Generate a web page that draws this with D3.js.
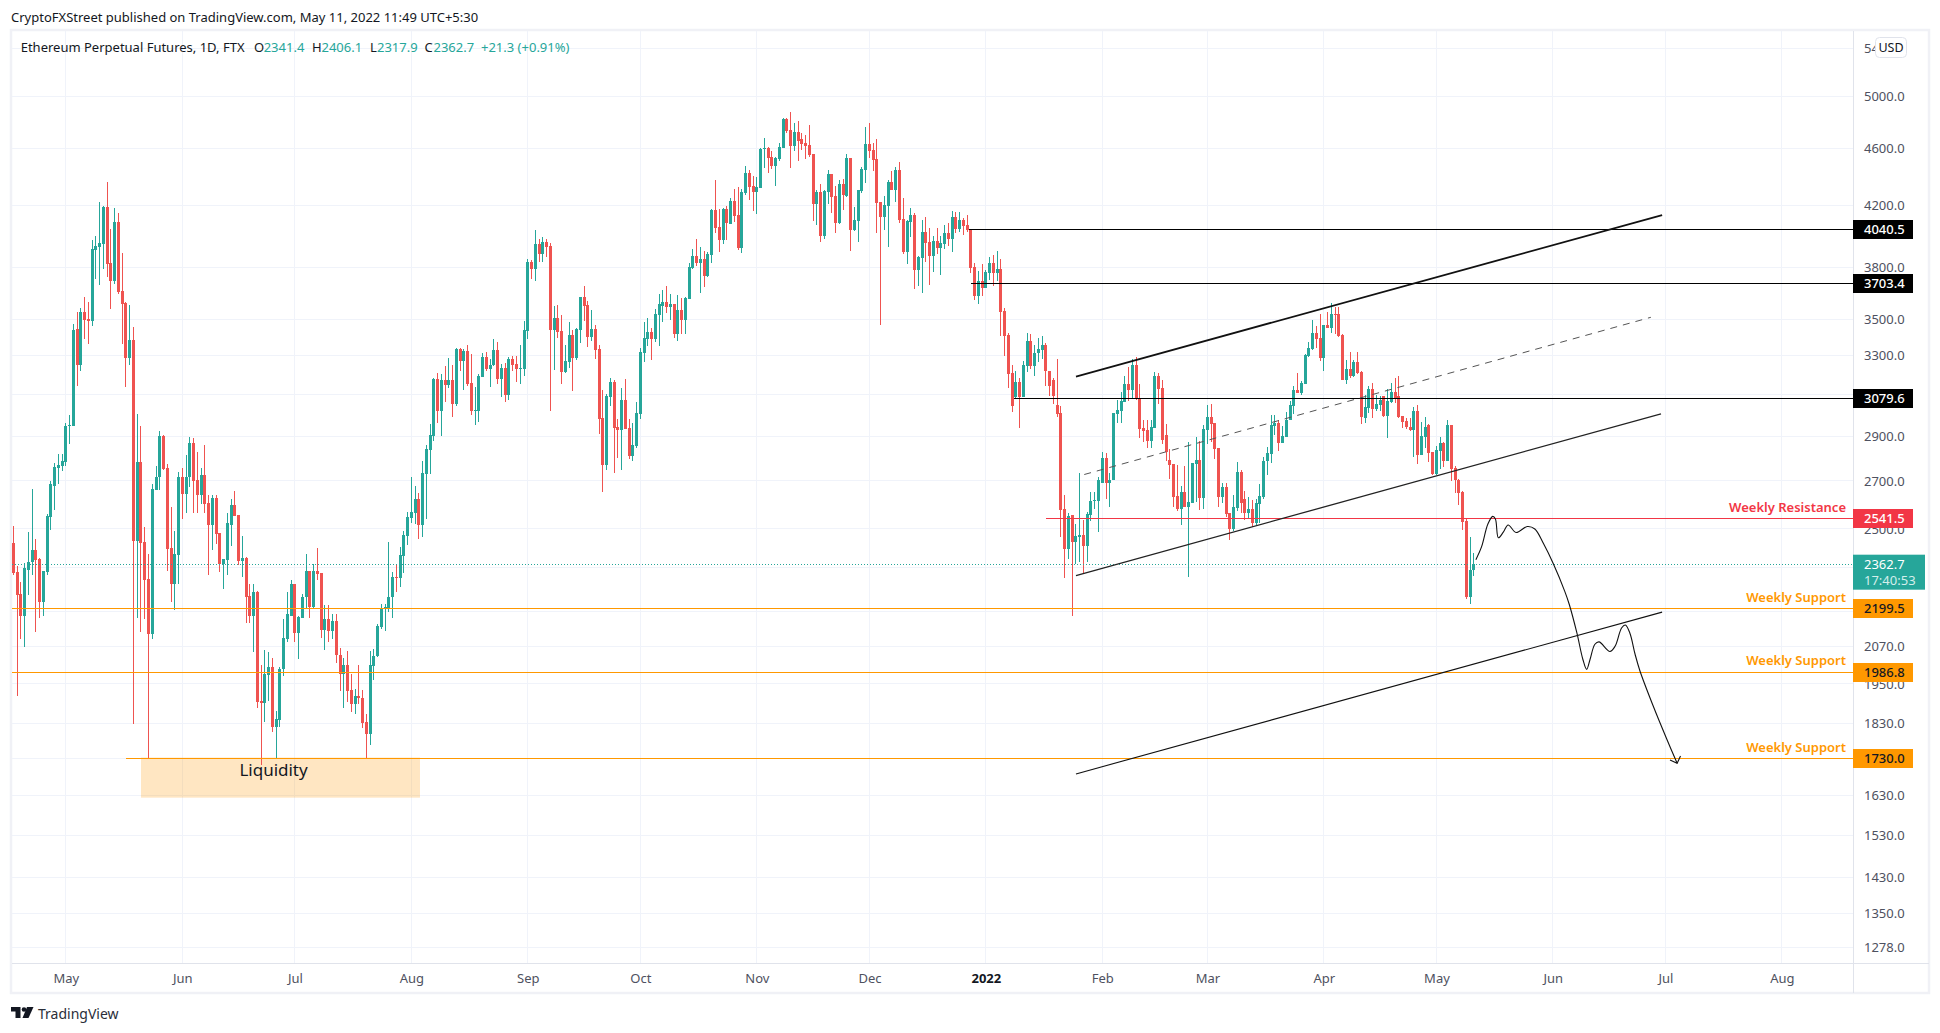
<!DOCTYPE html>
<html>
<head>
<meta charset="utf-8">
<title>Ethereum Perpetual Futures, 1D, FTX</title>
<script src="https://d3js.org/d3.v7.min.js"></script>
<style>
html, body { margin: 0; background: #fff; }
svg { display: block; font-family: "Noto Sans", sans-serif; }
.axis text { font-family: "Noto Sans", sans-serif; font-size: 13px; fill: #4e5160; }
.axis .domain { display: none; }
.axis line { display: none; }
</style>
</head>
<body>
<div id="my_chart"></div>
<script>

// daily candles, first one is 17 Apr 2021
const firstDay = Date.UTC(2021, 3, 17);

const opens = [
  2443,2335,2254,2176,2342,2372,2417,2383,2225,2335,2547,2680,2758,2765,2785,2947,2950,3445,3250,3540,
  3500,3490,3912,3930,3950,4188,3830,3722,4090,3660,3590,3290,3385,2452,2785,2447,2308,2112,2660,2715,
  2900,2758,2425,2290,2398,2719,2642,2715,2870,2702,2638,2724,2605,2517,2626,2484,2364,2379,2517,2597,
  2555,2375,2386,2247,2173,2258,1898,1892,1978,2003,1820,1840,1997,2095,2173,2290,2115,2166,2240,2338,
  2205,2338,2331,2125,2163,2122,2156,2042,1981,2010,1932,1888,1914,1905,1834,1799,2007,2039,2136,2198,
  2201,2240,2316,2312,2394,2472,2543,2563,2622,2515,2732,2838,2902,3177,3019,3172,3147,3172,3053,3337,
  3274,3327,3157,3019,3019,3192,3295,3233,3249,3332,3177,3238,3098,3285,3259,3233,3233,3434,3838,3790,
  3950,3888,3962,3935,3440,3505,3434,3213,3269,3412,3290,3440,3625,3578,3401,3445,3337,2986,2771,3088,
  3162,2944,2930,3073,2939,2811,2856,3005,3316,3391,3428,3391,3522,3573,3595,3567,3585,3418,3550,3495,
  3613,3796,3875,3832,3856,3748,3881,4169,4056,3975,4175,4077,4229,4135,3925,4283,4422,4332,4290,4318,
  4594,4607,4535,4472,4521,4607,4820,4736,4621,4721,4668,4644,4629,4558,4209,4290,4000,4290,4415,4263,
  4083,4346,4263,4528,4038,4097,4297,4443,4637,4587,4521,4222,4122,4195,4360,4304,4443,4110,3899,4090,
  4135,3784,3862,4025,3962,3875,3968,3925,3950,4020,3981,4122,4044,4103,4070,4044,3802,3631,3718,3677,
  3766,3832,3766,3790,3545,3412,3208,3088,3162,3088,3244,3380,3244,3316,3332,3358,3223,3172,3048,3010,
  2580,2421,2555,2447,2468,2476,2433,2555,2613,2613,2693,2802,2689,2706,3005,3019,3063,3152,3122,3254,
  3083,2939,2930,2879,2939,3197,3132,2907,2793,2775,2634,2580,2651,2588,2605,2775,2793,2626,2930,2990,
  2962,2847,2630,2676,2563,2499,2584,2741,2622,2563,2580,2522,2600,2630,2788,2820,2948,2962,2870,2897,
  2976,3043,3122,3107,3152,3300,3337,3423,3396,3290,3467,3450,3528,3528,3412,3172,3233,3197,3269,3213,
  2986,3034,3127,3029,3048,3093,2995,3063,3112,3093,2995,2972,2944,2930,3019,2815,2897,2953,2829,2732,
  2834,2870,2788,2953,2758,2706,2651,2531,2240,2341.4
];
const highs = [
  2510,2357,2298,2368,2488,2664,2460,2386,2338,2559,2698,2780,2817,2820,2965,3000,3470,3540,3562,3625,
  3600,3975,4000,4222,4195,4360,4043,4182,4150,3893,3595,3578,3455,3005,2950,2507,2401,2685,2767,2925,
  2905,2775,2588,2491,2740,2758,2815,2897,2893,2829,2758,2860,2638,2638,2638,2484,2383,2563,2622,2655,
  2555,2472,2390,2290,2290,2262,2010,2059,2052,2033,1866,2003,2163,2258,2305,2290,2173,2254,2401,2338,
  2364,2425,2331,2212,2212,2183,2183,2065,2033,2056,1982,1935,2010,1932,1857,2056,2063,2146,2215,2215,
  2448,2335,2360,2429,2491,2568,2715,2680,2647,2789,2860,2960,3187,3208,3203,3248,3290,3254,3342,3342,
  3337,3358,3311,3137,3203,3316,3321,3285,3391,3375,3259,3264,3295,3300,3300,3358,3490,3856,3850,4038,
  3981,3994,3981,3955,3573,3578,3521,3358,3484,3440,3450,3625,3689,3601,3550,3467,3358,3122,3103,3187,
  3172,2981,3132,3177,2981,2962,3063,3342,3484,3505,3450,3556,3642,3665,3689,3642,3585,3636,3619,3625,
  3832,3918,3981,3930,3905,3899,4175,4375,4175,4182,4195,4250,4311,4325,4311,4472,4443,4401,4394,4607,
  4682,4614,4580,4542,4645,4835,4828,4875,4790,4812,4713,4698,4775,4558,4304,4349,4304,4443,4415,4332,
  4375,4382,4558,4528,4190,4304,4465,4760,4790,4645,4668,4222,4263,4375,4436,4465,4500,4250,4103,4182,
  4150,3875,4103,4122,4050,4000,4050,4000,4070,4083,4162,4155,4155,4116,4135,4044,3832,3778,3826,3784,
  3868,3881,3905,3856,3562,3423,3254,3223,3187,3274,3423,3418,3358,3396,3407,3370,3223,3182,3285,3043,
  2638,2563,2555,2519,2736,2535,2568,2651,2651,2715,2829,2825,2736,3010,3073,3112,3197,3243,3285,3295,
  3152,2976,2976,2976,3213,3208,3172,2958,2843,2775,2771,2680,2767,2875,2780,2897,2879,2953,3048,3053,
  2962,2847,2689,2689,2563,2638,2785,2749,2655,2630,2618,2622,2685,2807,2852,3000,3000,2976,2948,3015,
  3068,3142,3208,3167,3311,3375,3495,3462,3528,3467,3540,3590,3567,3567,3418,3280,3321,3280,3321,3223,
  3098,3142,3157,3098,3093,3093,3127,3157,3182,3197,2995,2986,2986,3039,3048,2967,2990,2958,2829,2856,
  2897,2875,2976,2953,2767,2710,2655,2543,2468,2406.1
];
const lows = [
  2323,1914,2095,2069,2250,2323,2119,2169,2176,2323,2495,2576,2685,2745,2765,2865,2950,3142,3220,3391,
  3365,3460,3735,3695,3790,3742,3556,3700,3642,3365,3137,3252,1830,2167,2119,2163,1730,2095,2660,2660,
  2750,2338,2225,2194,2290,2539,2563,2672,2563,2563,2600,2563,2323,2417,2440,2335,2272,2323,2433,2551,
  2360,2316,2149,2149,2052,1877,1712,1836,1898,1804,1729,1820,1975,2085,2173,2085,2030,2166,2201,2169,
  2201,2305,2098,2059,2085,2095,2016,1929,1877,1895,1863,1857,1888,1816,1732,1768,1962,2036,2130,2122,
  2187,2166,2258,2279,2331,2437,2523,2519,2460,2468,2539,2732,2878,2962,2902,3063,3132,2990,3043,3218,
  3122,3142,3000,2953,2967,3192,3218,3137,3244,3152,3088,3063,3073,3223,3162,3152,3197,3391,3730,3718,
  3838,3838,3868,3019,3228,3396,3152,3208,3238,3117,3280,3370,3490,3348,3380,3285,2911,2651,2749,3043,
  2736,2802,2749,2934,2797,2788,2847,2981,3269,3353,3280,3375,3353,3484,3533,3495,3396,3380,3418,3418,
  3613,3790,3808,3648,3683,3742,3832,4020,3899,3950,3975,4077,4090,3912,3893,4270,4236,4162,4142,4318,
  4457,4422,4450,4332,4507,4607,4713,4457,4580,4507,4587,4521,4535,4097,4070,3962,3981,4209,4149,4018,
  4077,4169,4256,3905,4030,3962,4283,4352,4528,4436,4018,3467,4038,3930,4304,4222,4083,3887,3825,3994,
  3671,3689,3648,3838,3695,3772,3887,3754,3918,3937,3899,4018,4025,4006,4025,3766,3607,3585,3631,3677,
  3724,3689,3718,3407,3300,3132,3015,3083,2939,3088,3213,3233,3197,3269,3285,3142,3093,3053,2990,2468,
  2312,2383,2173,2364,2372,2331,2372,2531,2580,2488,2689,2622,2588,2706,2962,2962,3063,3068,3083,3073,
  2893,2875,2847,2847,2939,3053,2865,2788,2710,2588,2572,2515,2588,2316,2605,2609,2576,2580,2865,2875,
  2797,2588,2605,2547,2456,2491,2572,2563,2535,2539,2507,2515,2522,2622,2724,2780,2907,2834,2870,2897,
  2976,3005,3107,3098,3152,3295,3332,3342,3274,3223,3450,3423,3418,3401,3172,3152,3187,3192,3203,2958,
  2962,3010,2986,3019,3019,2990,2893,3060,3058,2986,2939,2934,2925,2806,2775,2815,2847,2784,2728,2728,
  2754,2762,2788,2698,2647,2597,2495,2236,2215,2317.9
];
const closes = [
  2331,2250,2176,2349,2372,2417,2379,2225,2338,2551,2685,2762,2770,2788,2950,2955,3440,3250,3540,3495,
  3490,3918,3935,3955,4188,3825,3718,4090,3654,3585,3290,3385,2452,2785,2443,2305,2112,2664,2719,2900,
  2754,2421,2290,2401,2719,2642,2719,2870,2698,2638,2724,2600,2517,2626,2480,2364,2383,2522,2597,2551,
  2375,2386,2243,2173,2258,1895,1892,1981,2003,1820,1842,1997,2098,2180,2290,2115,2170,2243,2338,2205,
  2338,2327,2125,2163,2122,2156,2042,1981,2010,1929,1888,1914,1905,1831,1799,2010,2039,2139,2201,2205,
  2243,2316,2312,2398,2476,2547,2568,2622,2515,2736,2843,2907,3177,3019,3172,3147,3172,3053,3337,3274,
  3327,3152,3019,3024,3197,3295,3233,3254,3332,3177,3238,3098,3285,3254,3233,3238,3440,3838,3790,3950,
  3888,3962,3930,3440,3505,3428,3213,3274,3412,3290,3445,3625,3573,3401,3445,3332,2981,2771,3093,3162,
  2939,2930,3073,2934,2811,2860,3010,3321,3396,3428,3391,3528,3585,3595,3567,3585,3418,3550,3495,3619,
  3802,3875,3832,3856,3748,3887,4169,4050,3975,4175,4083,4229,4128,3925,4290,4422,4325,4290,4325,4600,
  4607,4528,4472,4528,4614,4820,4728,4621,4721,4660,4637,4621,4550,4209,4290,4000,4297,4415,4256,4083,
  4346,4270,4528,4038,4103,4304,4450,4637,4580,4514,4216,4122,4202,4360,4304,4443,4103,3899,4097,4135,
  3784,3868,4025,3955,3875,3968,3925,3955,4020,3981,4122,4044,4103,4063,4038,3796,3631,3718,3677,3772,
  3832,3766,3790,3540,3407,3203,3043,3162,3088,3249,3380,3244,3316,3337,3358,3218,3142,3093,3005,2576,
  2421,2551,2447,2472,2476,2433,2559,2613,2618,2702,2802,2689,2706,3010,3024,3068,3152,3122,3254,3078,
  2934,2925,2879,2944,3197,3127,2884,2829,2771,2630,2580,2651,2588,2609,2780,2793,2626,2934,2990,2958,
  2843,2630,2676,2559,2499,2588,2741,2605,2563,2580,2522,2605,2634,2788,2825,2953,2962,2870,2902,2976,
  3048,3122,3107,3157,3306,3342,3423,3391,3290,3467,3450,3528,3522,3407,3172,3233,3197,3269,3208,2990,
  3039,3127,3029,3053,3073,2995,3068,3112,3083,2990,2967,2944,2930,3019,2815,2902,2944,2825,2732,2838,
  2870,2788,2953,2754,2702,2647,2526,2240,2341,2362.7
];

// price levels with the bar they start at
const levelPrices = [4040.5, 3703.4, 3079.6, 2541.5, 2199.5, 1986.8, 1730.0];
const levelStarts = [254.5, 255, 266.5, 275, -1, -1, 30];
const levelColors = ["#000000", "#000000", "#000000", "#f23645", "#ff9800", "#ff9800", "#ff9800"];
const levelText = ["#ffffff", "#ffffff", "#ffffff", "#ffffff", "#131722", "#131722", "#131722"];
const levelNotes = ["", "", "", "Weekly Resistance", "Weekly Support", "Weekly Support", "Weekly Support"];
const lastPrice = 2362.7;

// trend lines as [bar, price]
const channelTop = [[283, 3192], [439.1, 4135]];
const channelMid = [[285.2, 2728], [436.1, 3510]];
const channelLow = [[283, 2320], [438.8, 3007]];
const channelBottom = [[283, 1688], [439.1, 2188]];

// hand drawn path of the forecast
const forecast = [
  [389.5,2380],[391,2429],[392.7,2520],[394,2551],[394.7,2540],[395.5,2465],[396.8,2487],[398.1,2516],
  [400.2,2486],[403.2,2510],[405.2,2500],[407.5,2442],[410.1,2365],[413.2,2261],[414.4,2214],[416.4,2116],
  [418,2028],[419,1996],[419.9,2028],[421.2,2078],[422.3,2086],[425.2,2054],[426.6,2072],[428.3,2133],
  [429.3,2143],[430.5,2116],[431.9,2045],[433.2,1991],[436.7,1883],[440.3,1786],[443.1,1717]
];
const forecastHead = [[441.2,1726],[443.1,1717],[444,1737]];

// liquidity box: bars and prices
const liquidityBars = [34, 108.3];
const liquidityPrices = [1733, 1625];
const liquidityLabelBar = 69.3;

const priceTicks = [5400,5000,4600,4200,3800,3500,3300,3100,2900,2700,2500,2350,2190,2070,1950,1830,1730,1630,1530,1430,1350,1278];
// these labels sit completely behind a price tag
const coveredTicks = [3100,2350,2190,1730];
const monthTicks = [
  [2021,4,"May"],[2021,5,"Jun"],[2021,6,"Jul"],[2021,7,"Aug"],[2021,8,"Sep"],[2021,9,"Oct"],[2021,10,"Nov"],[2021,11,"Dec"],
  [2022,0,"2022"],[2022,1,"Feb"],[2022,2,"Mar"],[2022,3,"Apr"],[2022,4,"May"],[2022,5,"Jun"],[2022,6,"Jul"],[2022,7,"Aug"]
];

const width = 1940, height = 1033;
const pane = {left: 12, right: 1853, top: 31, bottom: 963};

const svg = d3.select("#my_chart").append("svg")
  .attr("width", width)
  .attr("height", height);

const barDate = i => new Date(firstDay + i * 864e5);

const x = d3.scaleUtc()
  .domain([new Date(Date.UTC(2021, 4, 1)), new Date(Date.UTC(2022, 6, 1))])
  .range([65.9, 1665.5]);
const y = d3.scaleLog()
  .domain([5000, 1730])
  .range([96.6, 758.6]);

const xBar = i => x(barDate(i));

// outer frame
svg.append("rect")
  .attr("x", 11).attr("y", 30)
  .attr("width", 1918).attr("height", 963)
  .attr("fill", "none")
  .attr("stroke", "#f0f1f6")
  .attr("stroke-width", 2.5);

const clip = svg.append("clipPath").attr("id", "pane-clip").append("rect")
  .attr("x", pane.left).attr("y", pane.top)
  .attr("width", pane.right - pane.left).attr("height", pane.bottom - pane.top);

// grid
const monthDates = monthTicks.map(d => new Date(Date.UTC(d[0], d[1], 1)));
const grid = svg.append("g").attr("shape-rendering", "crispEdges").attr("stroke", "#f0f3fa");
grid.selectAll(".h").data(priceTicks).join("line")
  .attr("x1", pane.left).attr("x2", pane.right)
  .attr("y1", d => Math.floor(y(d)) + 0.5).attr("y2", d => Math.floor(y(d)) + 0.5);
grid.selectAll(".v").data(monthDates).join("line")
  .attr("y1", pane.top).attr("y2", pane.bottom)
  .attr("x1", d => Math.floor(x(d)) + 0.5).attr("x2", d => Math.floor(x(d)) + 0.5);

const plot = svg.append("g").attr("clip-path", "url(#pane-clip)");

// liquidity box goes under the candles
plot.append("rect")
  .attr("x", xBar(liquidityBars[0]))
  .attr("y", y(liquidityPrices[0]))
  .attr("width", xBar(liquidityBars[1]) - xBar(liquidityBars[0]))
  .attr("height", y(liquidityPrices[1]) - y(liquidityPrices[0]))
  .attr("fill", "#ff9800")
  .attr("fill-opacity", 0.24);

// candles
const candles = plot.append("g").attr("shape-rendering", "crispEdges");
const upColor = "#26a69a", downColor = "#ef5350";
const color = i => closes[i] >= opens[i] ? upColor : downColor;

candles.selectAll(".wick").data(d3.range(closes.length)).join("rect")
  .attr("x", i => Math.floor(xBar(i)))
  .attr("width", 1)
  .attr("y", i => y(highs[i]))
  .attr("height", i => y(lows[i]) - y(highs[i]))
  .attr("fill", color);

candles.selectAll(".body").data(d3.range(closes.length)).join("rect")
  .attr("x", i => Math.floor(xBar(i)) - 1)
  .attr("width", 3)
  .attr("y", i => y(Math.max(opens[i], closes[i])))
  .attr("height", i => Math.max(1, Math.abs(y(opens[i]) - y(closes[i]))))
  .attr("fill", color);

// last price line
plot.append("line")
  .attr("x1", pane.left).attr("x2", pane.right)
  .attr("y1", Math.floor(y(lastPrice)) + 0.5).attr("y2", Math.floor(y(lastPrice)) + 0.5)
  .attr("stroke", upColor)
  .attr("stroke-dasharray", "1 2");

// horizontal levels
plot.selectAll(".level").data(levelPrices).join("line")
  .attr("x1", (d, i) => levelStarts[i] < 0 ? pane.left : xBar(levelStarts[i]))
  .attr("x2", pane.right)
  .attr("y1", d => Math.floor(y(d)) + 0.5)
  .attr("y2", d => Math.floor(y(d)) + 0.5)
  .attr("stroke", (d, i) => levelColors[i])
  .attr("stroke-width", 1)
  .attr("shape-rendering", "crispEdges");

// channel lines
const lineGen = d3.line().x(d => xBar(d[0])).y(d => y(d[1]));
plot.append("path").attr("d", lineGen(channelTop)).attr("fill", "none").attr("stroke", "#111").attr("stroke-width", 1.8);
plot.append("path").attr("d", lineGen(channelMid)).attr("fill", "none").attr("stroke", "#555").attr("stroke-width", 1).attr("stroke-dasharray", "7 6");
plot.append("path").attr("d", lineGen(channelLow)).attr("fill", "none").attr("stroke", "#222").attr("stroke-width", 1.3);
plot.append("path").attr("d", lineGen(channelBottom)).attr("fill", "none").attr("stroke", "#111").attr("stroke-width", 1.1);

// forecast path and arrow
plot.append("path")
  .attr("d", d3.line().x(d => xBar(d[0])).y(d => y(d[1])).curve(d3.curveCatmullRom)(forecast))
  .attr("fill", "none").attr("stroke", "#111").attr("stroke-width", 1.1);
plot.append("path").attr("d", lineGen(forecastHead)).attr("fill", "none").attr("stroke", "#111").attr("stroke-width", 1.1);

// notes
plot.selectAll(".note").data(levelPrices).join("text")
  .attr("x", 1846)
  .attr("y", d => y(d) - 7)
  .attr("text-anchor", "end")
  .attr("font-size", 13)
  .attr("font-weight", 600)
  .attr("fill", (d, i) => levelColors[i])
  .text((d, i) => levelNotes[i]);

plot.append("text")
  .attr("x", xBar(liquidityLabelBar))
  .attr("y", y(liquidityPrices[0]) + 18)
  .attr("text-anchor", "middle")
  .attr("font-size", 17)
  .attr("fill", "#131722")
  .text("Liquidity");

// axis frame lines
svg.append("line").attr("x1", pane.left).attr("x2", 1929).attr("y1", 963.5).attr("y2", 963.5).attr("stroke", "#e0e3eb").attr("stroke-width", 1);
svg.append("line").attr("x1", 1853.5).attr("x2", 1853.5).attr("y1", pane.top).attr("y2", 993).attr("stroke", "#e0e3eb").attr("stroke-width", 1);

// price axis
const yAxis = svg.append("g").attr("class", "axis")
  .attr("transform", "translate(1853,0)")
  .call(d3.axisRight(y).tickValues(priceTicks)
    .tickFormat(d => coveredTicks.includes(d) ? "" : d3.format(".1f")(d))
    .tickSize(0).tickPadding(11));

// time axis
const xAxis = svg.append("g").attr("class", "axis")
  .attr("transform", "translate(0,963)")
  .call(d3.axisBottom(x).tickValues(monthDates).tickFormat((d, i) => monthTicks[i][2]).tickSize(0).tickPadding(11));
xAxis.selectAll("text").filter(d => d.getUTCFullYear() === 2022 && d.getUTCMonth() === 0).attr("font-weight", 700).style("fill", "#131722");

// price labels on the axis
const tags = svg.append("g");
levelPrices.forEach((p, i) => {
  tags.append("rect")
    .attr("x", 1853).attr("y", Math.floor(y(p)) - 9)
    .attr("width", 60).attr("height", 19)
    .attr("fill", levelColors[i]);
  tags.append("text")
    .attr("x", 1864).attr("y", Math.floor(y(p)) + 5)
    .attr("font-size", 13)
    .attr("font-weight", 500)
    .attr("fill", levelText[i])
    .text(d3.format(".1f")(p));
});
tags.append("rect")
  .attr("x", 1853).attr("y", y(lastPrice) - 9.5)
  .attr("width", 72).attr("height", 35)
  .attr("fill", upColor);
tags.append("text")
  .attr("x", 1864).attr("y", y(lastPrice) + 5)
  .attr("font-size", 13).attr("fill", "#fff")
  .text(d3.format(".1f")(lastPrice));
tags.append("text")
  .attr("x", 1864).attr("y", y(lastPrice) + 21)
  .attr("font-size", 13).attr("fill", "#d4eeeb")
  .text("17:40:53");

// USD button
svg.append("rect")
  .attr("x", 1875.5).attr("y", 37.5).attr("width", 31).attr("height", 20).attr("rx", 4)
  .attr("fill", "#fff").attr("stroke", "#e0e3eb");
svg.append("text")
  .attr("x", 1891).attr("y", 52).attr("text-anchor", "middle")
  .attr("font-size", 12.5).attr("fill", "#131722").text("USD");

// header and legend
svg.append("text").attr("x", 11).attr("y", 22)
  .attr("font-size", 13).attr("fill", "#131722")
  .text("CryptoFXStreet published on TradingView.com, May 11, 2022 11:49 UTC+5:30");

const legendParts = [
  [20.7, "Ethereum Perpetual Futures, 1D, FTX", "#131722"],
  [254, "O", "#131722"], [263.7, "2341.4", upColor],
  [312, "H", "#131722"], [321.5, "2406.1", upColor],
  [370, "L", "#131722"], [377, "2317.9", upColor],
  [424.5, "C", "#131722"], [433.5, "2362.7", upColor],
  [481, "+21.3 (+0.91%)", upColor]
];
const legend = svg.append("text").attr("y", 52).attr("font-size", 13);
legendParts.forEach(d => {
  legend.append("tspan").attr("x", d[0]).attr("fill", d[2]).text(d[1]);
});

// footer logo
const logo = svg.append("g").attr("fill", "#131722");
logo.append("path").attr("d", "M11 1007H20.5V1018H15.5V1011.5H11Z");
logo.append("circle").attr("cx", 24).attr("cy", 1009.5).attr("r", 2.3);
logo.append("path").attr("d", "M27 1007H33.5L28.5 1018H22.5Z");
svg.append("text").attr("x", 38).attr("y", 1019)
  .attr("font-size", 14).attr("fill", "#2a2e39")
  .text("TradingView");

</script>
</body>
</html>
